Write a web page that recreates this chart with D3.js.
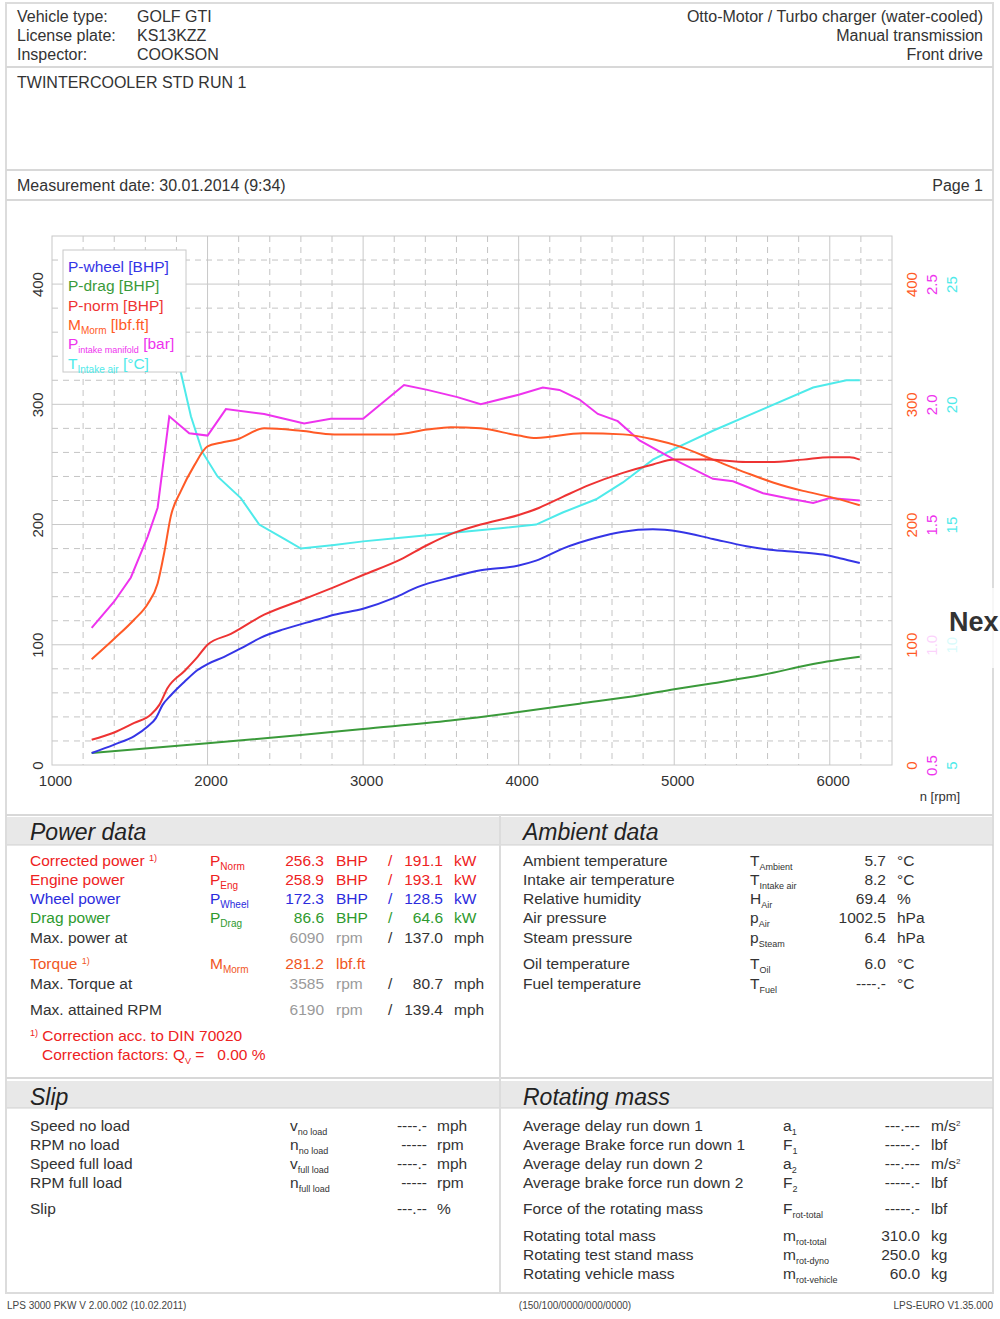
<!DOCTYPE html>
<html>
<head>
<meta charset="utf-8">
<script src="https://d3js.org/d3.v7.min.js"></script>
<style>
  body { margin: 0; background: #fff; }
  svg text { font-family: "Liberation Sans", Arial, sans-serif; white-space: pre; }
</style>
</head>
<body>
<div id="sheet"></div>
<script>
// ---- curve data ----
var wheelRpm = [1255,1400,1529,1615,1668,1711,1764,1850,1936,2000,2107,2214,2343,2493,2707,2814,3000,3199,3349,3563,3756,4000,4112,4283,4498,4670,4863,5036,5249,5464,5614,5807,5957,6064,6193];
var wheelBhp = [10,17,24,32,39,50,58,69,79,84,90,97,106,113,121,125,130,139,148,156,162,166,170,180,189,194,196,194,188,182,179,177,175,172,168];

var dragRpm = [1255,2000,2600,3000,3563,4000,4391,4777,5000,5249,5571,5893,6193];
var dragBhp = [10,18,25,30,37,44,51,58,63,68,75,84,90];

var normRpm = [1255,1400,1529,1636,1690,1743,1850,1936,2000,2150,2364,2600,2814,3000,3242,3413,3563,3756,4000,4133,4283,4455,4670,4863,5000,5206,5464,5614,5828,6000,6129,6193];
var normBhp = [21,27,35,42,50,64,78,90,100,109,125,137,148,158,171,183,192,200,208,214,223,233,243,250,254,254,252,252,254,256,256,254];

var torqueRpm = [1255,1400,1529,1615,1679,1722,1764,1829,1914,2000,2086,2193,2364,2600,2814,3000,3199,3413,3563,3756,4000,4112,4412,4670,4863,5034,5249,5464,5635,5828,6000,6193];
var torqueLbft = [88,105,121,134,151,177,207,228,249,265,268,271,280,278,275,275,275,279,281,280,274,272,276,275,271,265,254,243,235,228,223,216];

var boostRpm = [1255,1400,1507,1615,1679,1754,1882,2000,2118,2364,2493,2621,2792,3000,3263,3413,3606,3756,4000,4155,4262,4391,4509,4637,4777,5000,5249,5378,5571,5721,5893,6000,6193];
var boostBar = [1.07,1.18,1.28,1.45,1.57,1.95,1.88,1.87,1.98,1.96,1.94,1.92,1.94,1.94,2.08,2.06,2.03,2.00,2.04,2.07,2.06,2.02,1.96,1.93,1.85,1.77,1.69,1.68,1.63,1.61,1.59,1.61,1.60];

var tempRpm = [1700,1829,1893,1968,2064,2214,2332,2493,2600,2814,3000,3242,3563,3884,4112,4283,4498,4670,4863,5000,5249,5571,5893,6107,6193];
var tempC = [24.5,21.3,19.5,18.0,17.0,16.1,15.0,14.4,14.0,14.15,14.3,14.45,14.65,14.85,15.0,15.5,16.05,16.75,17.7,18.15,18.9,19.8,20.7,21.0,21.0];

// tick labels
var rpmTicks = [1000,2000,3000,4000,5000,6000];
var powerTicks = [0,100,200,300,400];
var boostTicks = [0.5,1.0,1.5,2.0,2.5];
var tempTicks = [5,10,15,20,25];

// ---- sheet text ----
var headLeftKeys = ["Vehicle type:", "License plate:", "Inspector:"];
var headLeftVals = ["GOLF GTI", "KS13KZZ", "COOKSON"];
var headRight = ["Otto-Motor / Turbo charger (water-cooled)", "Manual transmission", "Front drive"];

var ambientLabels = ["Ambient temperature","Intake air temperature","Relative humidity","Air pressure","Steam pressure","Oil temperature","Fuel temperature"];
var ambientSymbols = [["T","Ambient"],["T","Intake air"],["H","Air"],["p","Air"],["p","Steam"],["T","Oil"],["T","Fuel"]];
var ambientValues = ["5.7","8.2","69.4","1002.5","6.4","6.0","----.-"];
var ambientUnits = ["°C","°C","%","hPa","hPa","°C","°C"];

var slipLabels = ["Speed no load","RPM no load","Speed full load","RPM full load","Slip"];
var slipSymbols = [["v","no load"],["n","no load"],["v","full load"],["n","full load"],null];
var slipValues = ["----.-","-----","----.-","-----","---.--"];
var slipUnits = ["mph","rpm","mph","rpm","%"];

var rotLabels = ["Average delay run down 1","Average Brake force run down 1","Average delay run down 2","Average brake force run down 2","Force of the rotating mass","Rotating total mass","Rotating test stand mass","Rotating vehicle mass"];
var rotSymbols = [["a","1"],["F","1"],["a","2"],["F","2"],["F","rot-total"],["m","rot-total"],["m","rot-dyno"],["m","rot-vehicle"]];
var rotValues = ["---.---","-----.-","---.---","-----.-","-----.-","310.0","250.0","60.0"];
var rotUnits = ["m/s","lbf","m/s","lbf","lbf","kg","kg","kg"];

var W = 1000, H = 1319;
var svg = d3.select("#sheet").append("svg").attr("width", W).attr("height", H);

// text helper: parts = [[str], [str,"sub",size], [str,"sup",size]]
function label(x, y, parts, o) {
  o = o || {};
  var t = svg.append("text").attr("x", x).attr("y", y)
    .attr("font-size", o.size || 15.5).attr("fill", o.color || "#333")
    .attr("text-anchor", o.anchor || "start");
  if (o.italic) t.attr("font-style", "italic");
  if (o.weight) t.attr("font-weight", o.weight);
  if (typeof parts === "string") parts = [[parts]];
  var shift = 0;
  parts.forEach(function (p) {
    var s = t.append("tspan").text(p[0]);
    var want = p[1] === "sub" ? 4 : p[1] === "sup" ? -5 : 0;
    if (want !== shift) { s.attr("dy", want - shift); shift = want; }
    if (p[1]) s.attr("font-size", p[2] || 10);
  });
  return t;
}
function hline(y, x1, x2, c, w) {
  svg.append("line").attr("x1", x1 || 6).attr("x2", x2 || 993).attr("y1", y).attr("y2", y)
    .attr("stroke", c || "#d8d8d8").attr("stroke-width", w || 2);
}

// ---- frame ----
svg.append("rect").attr("x", 6).attr("y", 3).attr("width", 987).attr("height", 1290)
  .attr("fill", "none").attr("stroke", "#dcdcdc").attr("stroke-width", 2);
hline(67); hline(170); hline(200);

// ---- header ----
headLeftKeys.forEach(function (k, i) {
  label(17, 22 + i * 19, k, { size: 16 });
  label(137, 22 + i * 19, headLeftVals[i], { size: 16 });
  label(983, 22 + i * 19, headRight[i], { anchor: "end", size: 16 });
});
label(17, 88, "TWINTERCOOLER STD RUN 1", { size: 16 });
label(17, 191, "Measurement date: 30.01.2014 (9:34)", { size: 16 });
label(983, 191, "Page 1", { anchor: "end", size: 16 });

// ---- chart ----
var x = d3.scaleLinear().domain([1000, 6400]).range([52, 892]);
var y = d3.scaleLinear().domain([0, 440]).range([765, 236]);
var yBoost = d3.scaleLinear().domain([0.5, 2.7]).range([765, 236]);
var yTemp = d3.scaleLinear().domain([5, 27]).range([765, 236]);

var grid = svg.append("g");
d3.range(1200, 6400, 200).forEach(function (r) {
  var solid = r % 1000 === 0;
  grid.append("line").attr("x1", x(r)).attr("x2", x(r)).attr("y1", 236).attr("y2", 765)
    .attr("stroke", solid ? "#c8c8c8" : "#c4c4c4")
    .attr("stroke-dasharray", solid ? null : "6,5");
});
d3.range(20, 440, 20).forEach(function (v) {
  var solid = v % 100 === 0;
  grid.append("line").attr("x1", 52).attr("x2", 892).attr("y1", y(v)).attr("y2", y(v))
    .attr("stroke", solid ? "#c8c8c8" : "#c4c4c4")
    .attr("stroke-dasharray", solid ? null : "6,5");
});
svg.append("rect").attr("x", 52).attr("y", 236).attr("width", 840).attr("height", 529)
  .attr("fill", "none").attr("stroke", "#c8c8c8");

// axes
var gx = svg.append("g").attr("transform", "translate(0,765)")
  .call(d3.axisBottom(x).tickValues(rpmTicks).tickSize(0).tickPadding(10).tickFormat(d3.format("d")));
gx.selectAll("text").attr("dx", 3).attr("font-size", 15).attr("fill", "#333");

function rotAxis(axis, off, color) {
  var g = svg.append("g").attr("transform", "translate(" + (off < 0 ? 52 : 892) + ",0)").call(axis);
  g.selectAll("text").attr("x", 0).attr("dy", 0).attr("y", off)
    .attr("transform", "rotate(-90)").attr("text-anchor", "middle")
    .attr("font-size", 15).attr("fill", color);
  return g;
}
var axes = [
  rotAxis(d3.axisLeft(y).tickValues(powerTicks).tickSize(0), -9, "#333"),
  rotAxis(d3.axisRight(y).tickValues(powerTicks).tickSize(0), 25, "#ff5a26"),
  rotAxis(d3.axisRight(yBoost).tickValues(boostTicks).tickSize(0).tickFormat(d3.format(".1f")), 45, "#ee33ee"),
  rotAxis(d3.axisRight(yTemp).tickValues(tempTicks).tickSize(0), 65, "#4eeaea")
];
gx.select(".domain").remove();
gx.attr("font-family", null);
axes.forEach(function (g) { g.select(".domain").remove(); g.attr("font-family", null); });

label(940, 801, "n [rpm]", { anchor: "middle", size: 13 });

// curves
function drawCurve(xs, ys, yScale, color, curve) {
  var pts = xs.map(function (r, i) { return [r, ys[i]]; });
  var line = d3.line().x(function (d) { return x(d[0]); })
    .y(function (d) { return yScale(d[1]); }).curve(curve);
  svg.append("path").attr("d", line(pts)).attr("fill", "none")
    .attr("stroke", color).attr("stroke-width", 2);
}
drawCurve(dragRpm, dragBhp, y, "#3a9a3a", d3.curveMonotoneX);
drawCurve(tempRpm, tempC, yTemp, "#4eeaea", d3.curveLinear);
drawCurve(boostRpm, boostBar, yBoost, "#ee33ee", d3.curveLinear);
drawCurve(torqueRpm, torqueLbft, y, "#ff5a26", d3.curveMonotoneX);
drawCurve(normRpm, normBhp, y, "#ee3333", d3.curveMonotoneX);
drawCurve(wheelRpm, wheelBhp, y, "#3535e6", d3.curveMonotoneX);

// legend
svg.append("rect").attr("x", 63).attr("y", 250).attr("width", 123).attr("height", 122)
  .attr("fill", "#fff").attr("stroke", "#c8c8c8");
var leg = [
  [[["P-wheel [BHP]"]], "#3535e6"],
  [[["P-drag [BHP]"]], "#3a9a3a"],
  [[["P-norm [BHP]"]], "#ee3333"],
  [[["M"], ["Morm", "sub", 10], [" [lbf.ft]"]], "#ff5a26"],
  [[["P"], ["intake manifold", "sub", 9], [" [bar]"]], "#ee33ee"],
  [[["T"], ["Intake air", "sub", 10], [" [°C]"]], "#4eeaea"]
];
leg.forEach(function (l, i) {
  label(68, 272 + i * 19.3, l[0], { size: 15.5, color: l[1] });
});

// "Next" overlay from the viewer
svg.append("rect").attr("x", 921).attr("y", 588).attr("width", 79).attr("height", 80)
  .attr("fill", "#fff").attr("opacity", 0.78);
label(949, 631, "Nex", { size: 27, weight: "bold", color: "#333" });

// ---- sections ----
hline(815);
svg.append("rect").attr("x", 7).attr("y", 817).attr("width", 985).attr("height", 28).attr("fill", "#e8e8e8");
svg.append("rect").attr("x", 7).attr("y", 1081).attr("width", 985).attr("height", 27).attr("fill", "#e8e8e8");
hline(845, 7, 993, "#d0d0d0", 1);
hline(1078);
hline(1108, 7, 993, "#d0d0d0", 1);
svg.append("line").attr("x1", 500).attr("x2", 500).attr("y1", 815).attr("y2", 1293)
  .attr("stroke", "#dcdcdc").attr("stroke-width", 2);

label(30, 840, "Power data", { size: 23, italic: true, color: "#222" });
label(523, 840, "Ambient data", { size: 23, italic: true, color: "#222" });
label(30, 1105, "Slip", { size: 23, italic: true, color: "#222" });
label(523, 1105, "Rotating mass", { size: 23, italic: true, color: "#222" });

// power data
var red = "#ee2222", blue = "#2b2bdd", green = "#2e9a2e", orange = "#f0561e", gray = "#9a9a9a", ink = "#333";
var pRows = [
  { y: 866, lab: [["Corrected power "], ["1)", "sup", 9]], sym: ["P", "Norm"], v1: "256.3", u1: "BHP", v2: "191.1", u2: "kW", c: red },
  { y: 885, lab: [["Engine power"]], sym: ["P", "Eng"], v1: "258.9", u1: "BHP", v2: "193.1", u2: "kW", c: red },
  { y: 904, lab: [["Wheel power"]], sym: ["P", "Wheel"], v1: "172.3", u1: "BHP", v2: "128.5", u2: "kW", c: blue },
  { y: 923, lab: [["Drag power"]], sym: ["P", "Drag"], v1: "86.6", u1: "BHP", v2: "64.6", u2: "kW", c: green },
  { y: 943, lab: [["Max. power at"]], sym: null, v1: "6090", u1: "rpm", v2: "137.0", u2: "mph", c: ink, c1: gray },
  { y: 969, lab: [["Torque "], ["1)", "sup", 9]], sym: ["M", "Morm"], v1: "281.2", u1: "lbf.ft", c: orange },
  { y: 989, lab: [["Max. Torque at"]], sym: null, v1: "3585", u1: "rpm", v2: "80.7", u2: "mph", c: ink, c1: gray },
  { y: 1015, lab: [["Max. attained RPM"]], sym: null, v1: "6190", u1: "rpm", v2: "139.4", u2: "mph", c: ink, c1: gray }
];
pRows.forEach(function (r) {
  label(30, r.y, r.lab, { color: r.c });
  if (r.sym) label(210, r.y, [[r.sym[0]], [r.sym[1], "sub", 10]], { color: r.c });
  label(324, r.y, r.v1, { anchor: "end", color: r.c1 || r.c });
  label(336, r.y, r.u1, { color: r.c1 || r.c });
  if (r.v2) {
    label(388, r.y, "/", { color: r.c });
    label(443, r.y, r.v2, { anchor: "end", color: r.c });
    label(454, r.y, r.u2, { color: r.c });
  }
});
label(30, 1041, [["1)", "sup", 9], [" Correction acc. to DIN 70020", "", 15.5]], { color: red });
label(42, 1060, [["Correction factors: Q"], ["V", "sub", 9], [" =\u00a0\u00a0\u00a00.00 %"]], { color: red });

// ambient data
var ambY = [866, 885, 904, 923, 943, 969, 989];
ambientLabels.forEach(function (l, i) {
  label(523, ambY[i], l);
  label(750, ambY[i], [[ambientSymbols[i][0]], [ambientSymbols[i][1], "sub", 9]]);
  label(886, ambY[i], ambientValues[i], { anchor: "end" });
  label(897, ambY[i], ambientUnits[i]);
});

// slip
var slipY = [1131, 1150, 1169, 1188, 1214];
slipLabels.forEach(function (l, i) {
  label(30, slipY[i], l);
  if (slipSymbols[i]) label(290, slipY[i], [[slipSymbols[i][0]], [slipSymbols[i][1], "sub", 9]]);
  label(427, slipY[i], slipValues[i], { anchor: "end" });
  label(437, slipY[i], slipUnits[i]);
});

// rotating mass
var rotY = [1131, 1150, 1169, 1188, 1214, 1241, 1260, 1279];
rotLabels.forEach(function (l, i) {
  label(523, rotY[i], l);
  label(783, rotY[i], [[rotSymbols[i][0]], [rotSymbols[i][1], "sub", 9]]);
  label(920, rotY[i], rotValues[i], { anchor: "end" });
  var u = rotUnits[i] === "m/s" ? [["m/s"], ["2", "sup", 8]] : rotUnits[i];
  label(931, rotY[i], u);
});

// footer
label(7, 1309, "LPS 3000 PKW V 2.00.002 (10.02.2011)", { size: 10, color: "#444" });
label(575, 1309, "(150/100/0000/000/0000)", { size: 10, color: "#444", anchor: "middle" });
label(993, 1309, "LPS-EURO V1.35.000", { size: 10, color: "#444", anchor: "end" });
</script>
</body>
</html>
